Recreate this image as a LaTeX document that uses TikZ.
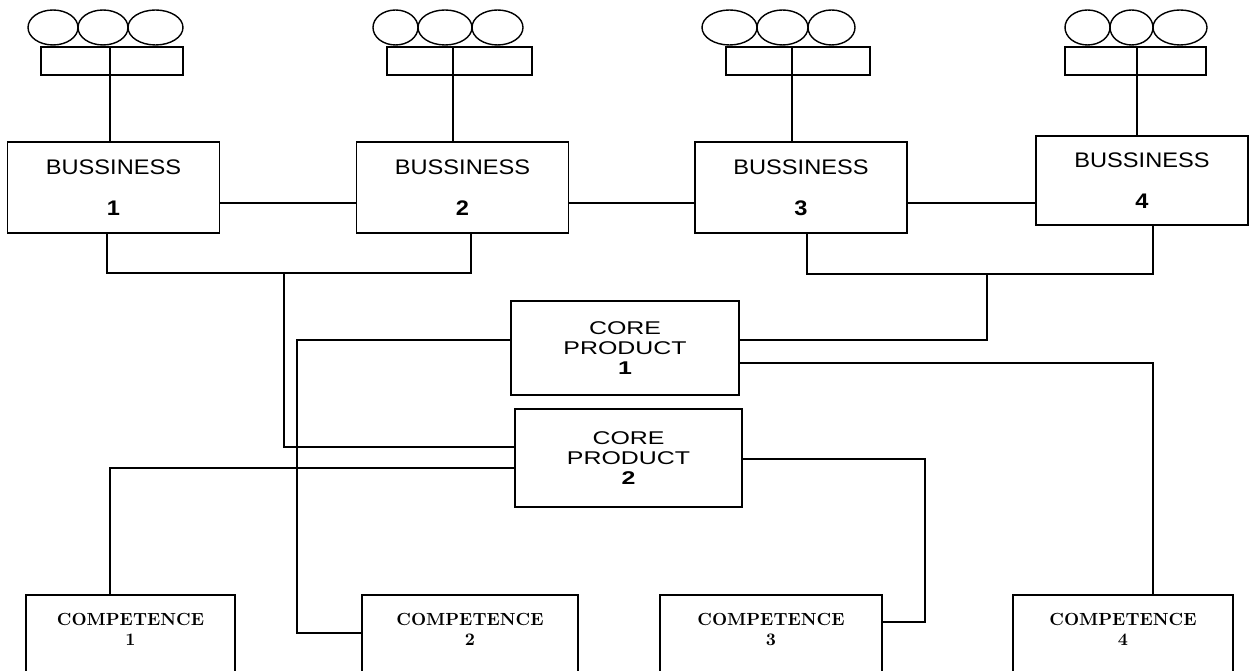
\documentclass[tikz,border=0pt]{standalone}
\usepackage{fontspec}
\newfontfamily\bizfont[FakeStretch=1.12]{Liberation Sans}
\newfontfamily\corefont[FakeStretch=1.35]{Liberation Sans}
\usepackage{tikz}
\usetikzlibrary{positioning,shapes.geometric,calc}

\begin{document}
\begin{tikzpicture}[x=0.02cm,y=-0.02cm,line width=1.1pt,
    bead/.style={draw,ellipse,line width=.8pt,inner sep=0pt,minimum height=.7cm},
    shelf/.style={draw,rectangle,inner sep=0pt,minimum height=.56cm},
    biz/.style={draw,rectangle,align=center,minimum width=4.24cm,minimum height=1.82cm,font=\bizfont\fontsize{12}{14}\selectfont},
    core/.style={draw,rectangle,align=center,minimum height=1.9cm,font=\corefont\fontsize{10.5}{11.6}\selectfont},
    comp/.style={draw,rectangle,align=center,anchor=north,inner ysep=.36cm,text depth=1.6cm,font=\bfseries\fontsize{10}{11.3}\selectfont}]
    \useasboundingbox (0,0) rectangle (1252,671);
    \clip (0,0) rectangle (1252,671);
    % beads and shelves on top
    \node[bead,minimum width=1.0cm] (o1a) at (53,27.5) {};
    \node[bead,minimum width=1.0cm] (o1b) at (103,27.5) {};
    \node[bead,minimum width=1.1cm] (o1c) at (155.5,27.5) {};
    \node[shelf,minimum width=2.84cm] (r1) at (112,61) {};
    \node[bead,minimum width=.9cm] (o2a) at (395.5,27.5) {};
    \node[bead,minimum width=1.08cm] (o2b) at (445,27.5) {};
    \node[bead,minimum width=1.02cm] (o2c) at (497.5,27.5) {};
    \node[shelf,minimum width=2.9cm] (r2) at (459.5,61) {};
    \node[bead,minimum width=1.1cm] (o3a) at (729.5,27.5) {};
    \node[bead,minimum width=1.02cm] (o3b) at (782.5,27.5) {};
    \node[bead,minimum width=.94cm] (o3c) at (831.5,27.5) {};
    \node[shelf,minimum width=2.88cm] (r3) at (798,61) {};
    \node[bead,minimum width=.9cm] (o4a) at (1087.5,27.5) {};
    \node[bead,minimum width=.86cm] (o4b) at (1131.5,27.5) {};
    \node[bead,minimum width=1.08cm] (o4c) at (1180,27.5) {};
    \node[shelf,minimum width=2.82cm] (r4) at (1135.5,61) {};
    % businesses
    \node[biz] (b1) at (113.5,187.5) {BUSSINESS\\[9.5pt]\textbf{1}};
    \node[biz] (b2) at (462.5,187.5) {BUSSINESS\\[9.5pt]\textbf{2}};
    \node[biz] (b3) at (801,187.5) {BUSSINESS\\[9.5pt]\textbf{3}};
    \node[biz,minimum height=1.78cm] (b4) at (1142,180.5) {BUSSINESS\\[9.5pt]\textbf{4}};
    % core products
    \node[core,minimum width=4.56cm,minimum height=1.88cm] (c1) at (625,348) {CORE\\PRODUCT\\\textbf{1}};
    \node[core,minimum width=4.54cm,minimum height=1.96cm] (c2) at (628.5,458) {CORE\\PRODUCT\\\textbf{2}};
    % competences
    \node[comp,minimum width=4.18cm] (m1) at (130.5,594) {COMPETENCE\\1};
    \node[comp,minimum width=4.32cm] (m2) at (470,594) {COMPETENCE\\2};
    \node[comp,minimum width=4.44cm] (m3) at (771,594) {COMPETENCE\\3};
    \node[comp,minimum width=4.4cm] (m4) at (1123,594) {COMPETENCE\\4};
    % stems
    \coordinate (s1) at (110,47); \coordinate (s2) at (453,47);
    \coordinate (s3) at (792,47); \coordinate (s4) at (1137,47);
    \draw (s1) -- (s1 |- b1.north); \draw (s2) -- (s2 |- b2.north);
    \draw (s3) -- (s3 |- b3.north); \draw (s4) -- (s4 |- b4.north);
    % row between businesses
    \coordinate (row) at (0,203);
    \draw (b1.east |- row) -- (b2.west |- row); \draw (b2.east |- row) -- (b3.west |- row); \draw (b3.east |- row) -- (b4.west |- row);
    % brackets down to core products
    \coordinate (k12) at (284,273); \coordinate (k34) at (987,274);
    \draw ($(b1.south)+(-6.5,0)$) |- (k12) -| ($(b2.south)+(8.5,0)$);
    \draw (k12) |- ($(c2.west)+(0,-11)$);
    \draw ($(b3.south)+(6,0)$) |- (k34) -| ($(b4.south)+(11,0)$);
    \draw (k34) |- ($(c1.east)+(0,-8)$);
    % core products to competences
    \coordinate (v2) at (297,633); \coordinate (v3) at (925,622);
    \draw ($(c1.west)+(0,-8)$) -| (v2) -- (v2 -| m2.west);
    \draw ($(c1.east)+(0,15)$) -| ($(m4.north)+(30,0)$);
    \draw ($(c2.west)+(0,10)$) -| ($(m1.north)+(-20.5,0)$);
    \draw ($(c2.east)+(0,1)$) -| (v3) -- (v3 -| m3.east);
  \end{tikzpicture}
\end{document}
